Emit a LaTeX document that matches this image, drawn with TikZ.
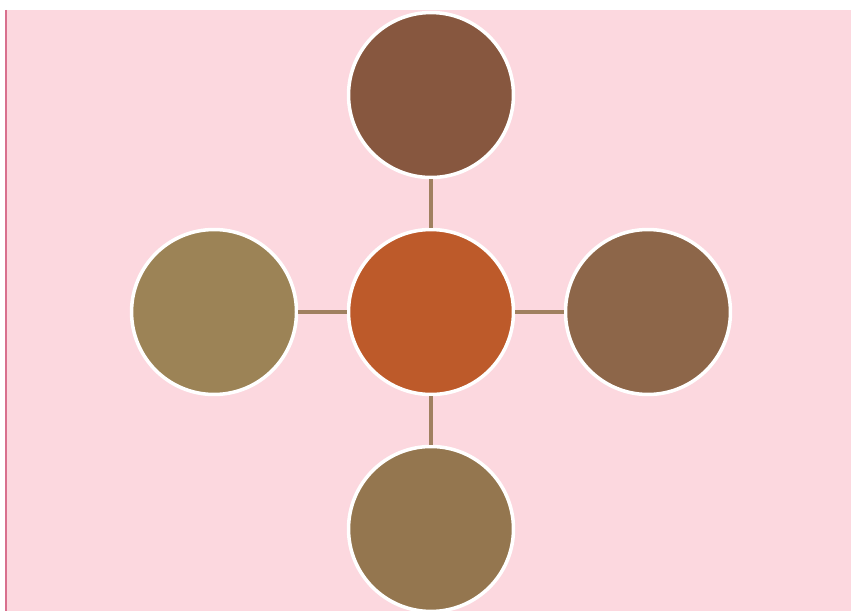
\documentclass[tikz,border=0pt]{standalone}
\usepackage{tikz}
\usetikzlibrary{positioning}
\definecolor{bgpink}{HTML}{FCD8DF}
\definecolor{edgepink}{HTML}{D8708E}
\definecolor{linkbrown}{HTML}{A08060}
\definecolor{hubred}{HTML}{BD5A2A}
\definecolor{topbrown}{HTML}{87573F}
\definecolor{leftolive}{HTML}{9C8356}
\definecolor{rightbrown}{HTML}{8D6649}
\definecolor{bottombrown}{HTML}{94764F}
\begin{document}
\begin{tikzpicture}[x=0.02cm,y=-0.02cm,
	ball/.style={circle, draw=white, line width=2pt, minimum size=3.3cm, inner sep=0pt},
	link/.style={draw=linkbrown, line width=2.4pt}]
	\useasboundingbox (0,0) rectangle (851,611);
	\fill [bgpink] (6,10) rectangle (851,611);
	\draw [edgepink, line width=1.3pt] (6,10) -- (6,611);
	%hub and spokes
	\node [ball, fill=hubred] (hub) at (431,312) {};
	\node [ball, fill=topbrown, above=0.97cm of hub] (top) {};
	\node [ball, fill=bottombrown, below=0.97cm of hub] (bottom) {};
	\node [ball, fill=leftolive, left=0.97cm of hub] (left) {};
	\node [ball, fill=rightbrown, right=0.97cm of hub] (right) {};
	\draw [link] (hub) -- (top);
	\draw [link] (hub) -- (bottom);
	\draw [link] (hub) -- (left);
	\draw [link] (hub) -- (right);
\end{tikzpicture}
\end{document}
